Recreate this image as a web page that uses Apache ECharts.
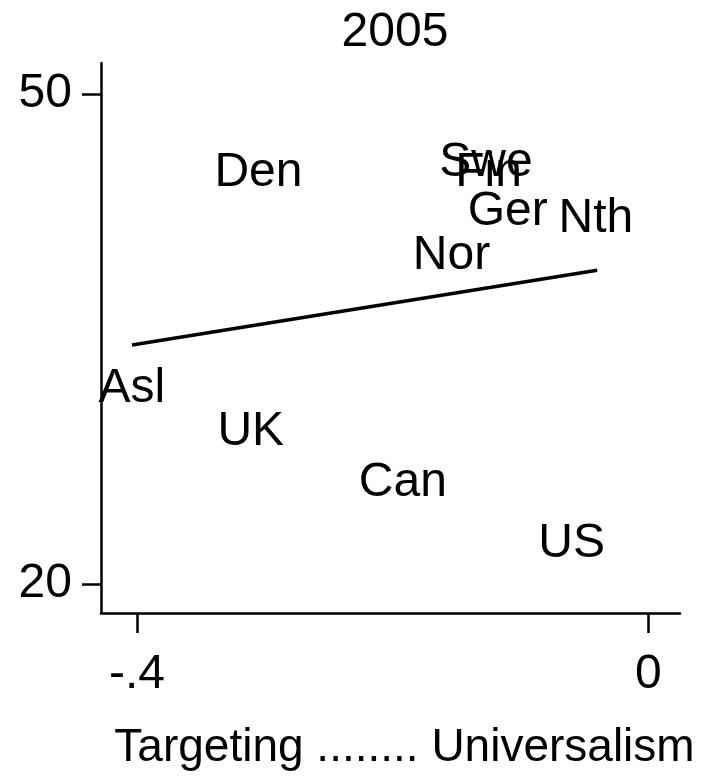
<!DOCTYPE html>
<html>
<head>
<meta charset="utf-8">
<title>2005</title>
<script src="https://cdn.jsdelivr.net/npm/echarts@6/dist/echarts.min.js"></script>
<style>
  html, body { margin: 0; padding: 0; background: #fff; }
  #chart { width: 715px; height: 776px; }
</style>
</head>
<body>
<div id="chart"></div>
<script>
// Country markers: position on the targeting–universalism scale vs. spending level
var countries = ['Den', 'Swe', 'Fin', 'Ger', 'Nth', 'Nor', 'Asl', 'UK', 'Can', 'US'];
var universalism = [-0.305, -0.127, -0.125, -0.110, -0.041, -0.154, -0.404, -0.311, -0.192, -0.060];
var spending = [45.2, 45.8, 45.17, 42.78, 42.39, 40.08, 31.96, 29.29, 26.16, 22.43];

// Linear fit, drawn across the observed range of x
var fitX = [-0.404, -0.040];
var fitY = [34.63, 39.21];

// Axis ticks and their printed labels
var xTicks = [-0.4, 0];
var xTickLabels = ['-.4', '0'];
var yTicks = [20, 50];
var yTickLabels = ['20', '50'];

var FONT = "'Liberation Sans', Arial, Helvetica, sans-serif";

var points = countries.map(function (c, i) {
  return [universalism[i], spending[i], c];
});
var fitLine = fitX.map(function (x, i) { return [x, fitY[i]]; });

var chart = echarts.init(document.getElementById('chart'), null, { renderer: 'canvas' });

chart.setOption({
  animation: false,
  backgroundColor: '#ffffff',
  textStyle: { fontFamily: FONT, color: '#000' },
  title: {
    text: '2005',
    left: 390,
    textAlign: 'center',
    top: 4,
    textStyle: { fontFamily: FONT, fontSize: 48, fontWeight: 'normal', color: '#000' }
  },
  grid: { left: 101, right: 35, top: 63, bottom: 161 },
  xAxis: {
    type: 'value',
    min: -0.4282,
    max: 0.0248,
    splitLine: { show: false },
    axisLine: { show: true, onZero: false, lineStyle: { color: '#000', width: 2.5 } },
    axisTick: { show: true, customValues: xTicks, length: 20, lineStyle: { color: '#000', width: 2.5 } },
    axisLabel: {
      show: true,
      customValues: xTicks,
      margin: 38,
      fontSize: 48,
      fontFamily: FONT,
      color: '#000',
      formatter: function (v) {
        var k = xTicks.indexOf(v);
        return k >= 0 ? xTickLabels[k] : '';
      }
    },
    name: 'Targeting ........ Universalism',
    nameLocation: 'middle',
    nameGap: 112,
    nameTextStyle: { fontFamily: FONT, fontSize: 46, color: '#000', padding: [0, 0, 0, 28] }
  },
  yAxis: {
    type: 'value',
    min: 18.21,
    max: 51.91,
    splitLine: { show: false },
    axisLine: { show: true, onZero: false, lineStyle: { color: '#000', width: 2.5 } },
    axisTick: { show: true, customValues: yTicks, length: 19, lineStyle: { color: '#000', width: 2.5 } },
    axisLabel: {
      show: true,
      customValues: yTicks,
      margin: 29,
      fontSize: 48,
      fontFamily: FONT,
      color: '#000',
      padding: [10, 0, 0, 0],
      formatter: function (v) {
        var k = yTicks.indexOf(v);
        return k >= 0 ? yTickLabels[k] : '';
      }
    }
  },
  series: [
    {
      name: 'countries',
      type: 'scatter',
      data: points,
      symbolSize: 1,
      itemStyle: { color: 'rgba(0,0,0,0)', opacity: 1 },
      label: {
        show: true,
        position: 'inside',
        fontFamily: FONT,
        fontSize: 48,
        color: '#000',
        opacity: 1,
        formatter: function (p) { return p.data[2]; }
      },
      emphasis: { disabled: true }
    },
    {
      name: 'fit',
      type: 'line',
      data: fitLine,
      symbol: 'none',
      lineStyle: { color: '#000', width: 3.5 },
      emphasis: { disabled: true }
    }
  ]
});
</script>
</body>
</html>
